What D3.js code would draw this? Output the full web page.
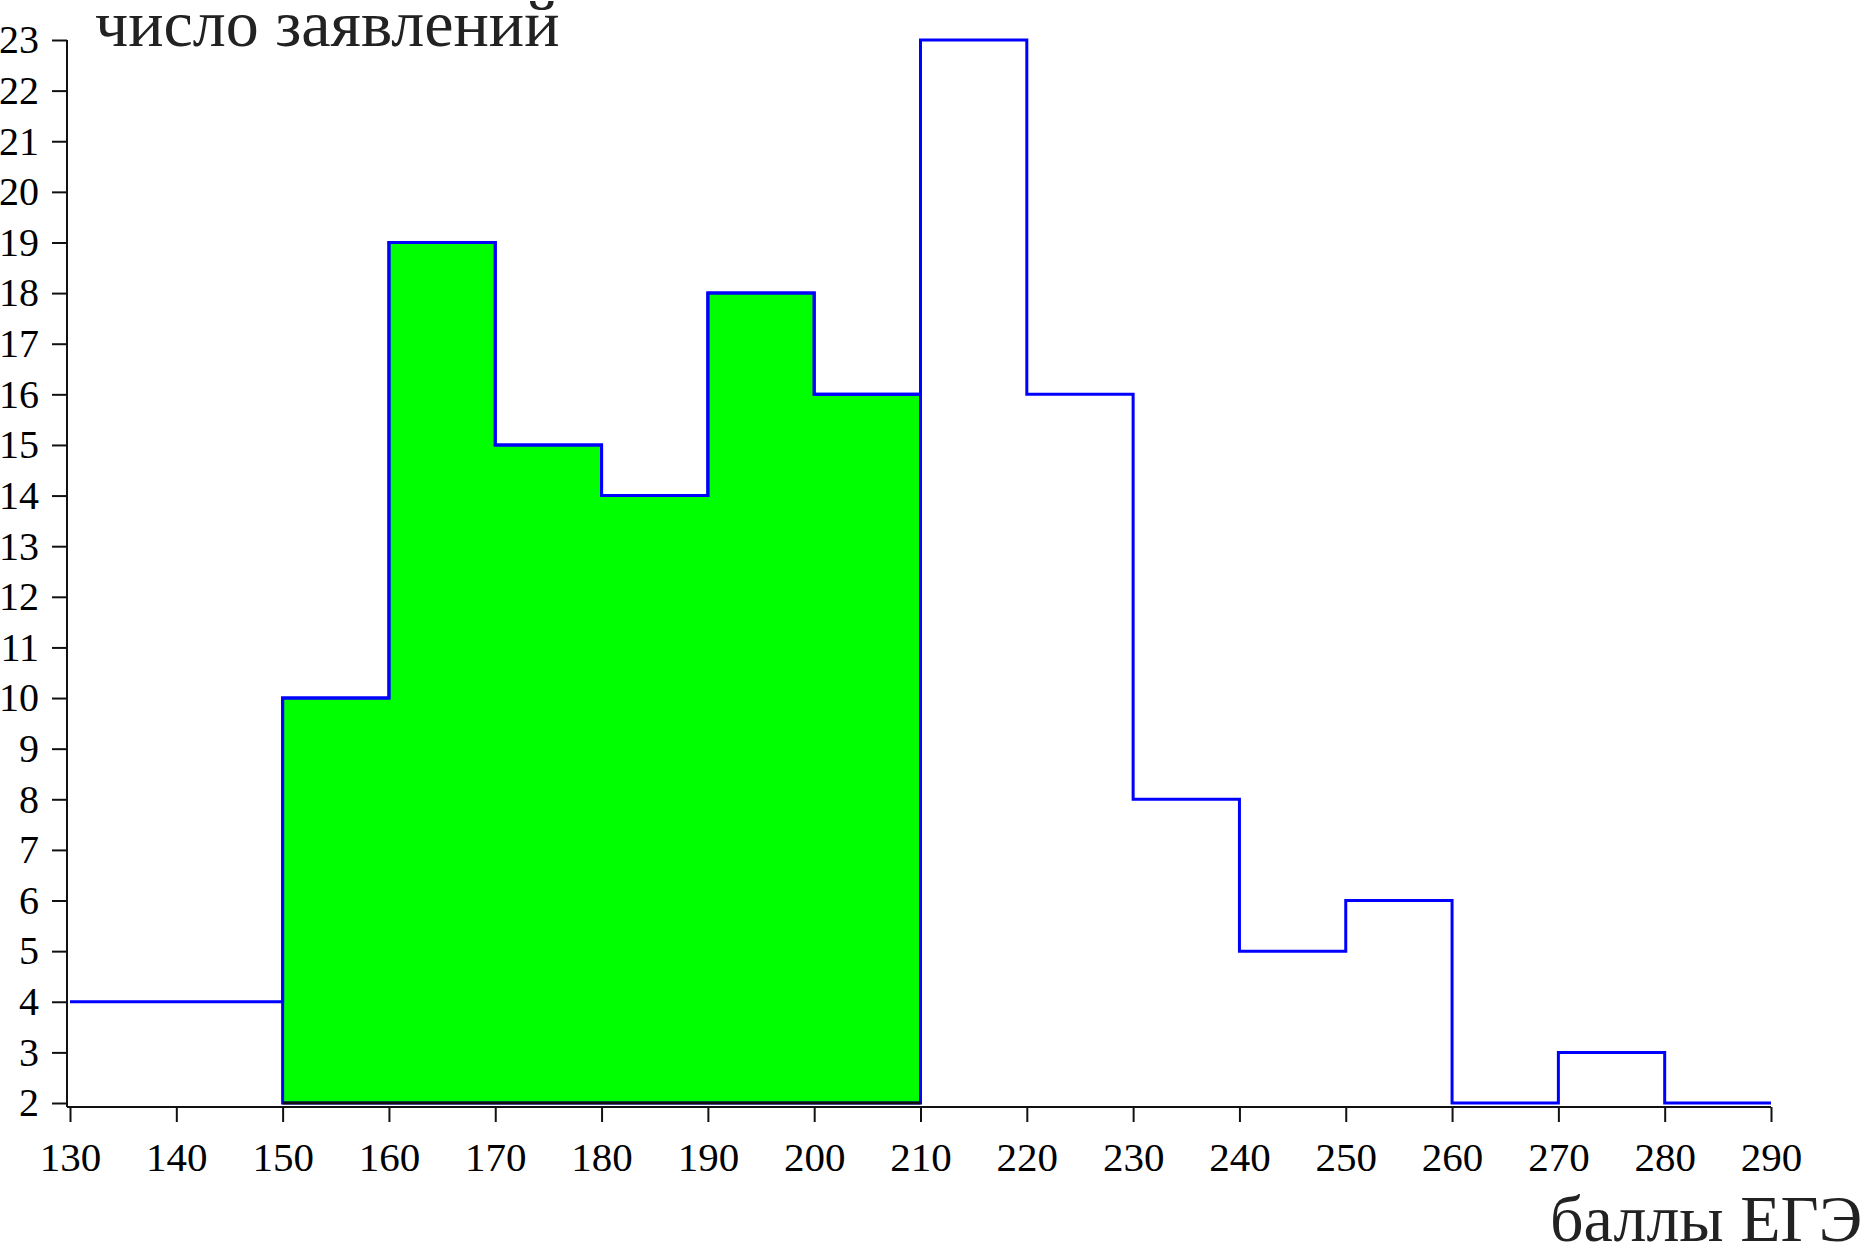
<!DOCTYPE html>
<html>
<head>
<meta charset="utf-8">
<script src="https://cdn.jsdelivr.net/npm/d3@7"></script>
<style>
  body { margin: 0; background: #fff; }
  text { font-family: "Liberation Serif", "DejaVu Serif", serif; }
</style>
</head>
<body>
<div id="chart"></div>
<script>
var svgWidth = 1862;
var svgHeight = 1244;

// bins of 10 points, from 130 to 290
var binStarts = [130, 140, 150, 160, 170, 180, 190, 200, 210, 220, 230, 240, 250, 260, 270, 280];
var counts = [4, 4, 10, 19, 15, 14, 18, 16, 23, 16, 8, 5, 6, 2, 3, 2];
var shadedFrom = 150;
var shadedTo = 210;
var xTicks = [130, 140, 150, 160, 170, 180, 190, 200, 210, 220, 230, 240, 250, 260, 270, 280, 290];
var yTicks = [2, 3, 4, 5, 6, 7, 8, 9, 10, 11, 12, 13, 14, 15, 16, 17, 18, 19, 20, 21, 22, 23];

var svg = d3.select("#chart").append("svg").attr("width", svgWidth).attr("height", svgHeight);

var xScale = d3.scaleLinear().domain([130, 290]).range([70, 1771]);
var yScale = d3.scaleLinear().domain([2, 23]).range([1103, 40]);

var axisX = 67;
var axisY = 1107;

// step points for the histogram outline
var steps = [];
binStarts.forEach(function(b, i) {
    steps.push([b, counts[i]]);
    steps.push([b + 10, counts[i]]);
});

// shaded part
var shaded = [[shadedFrom, 2]];
binStarts.forEach(function(b, i) {
    if (b >= shadedFrom && b < shadedTo) {
        shaded.push([b, counts[i]]);
        shaded.push([b + 10, counts[i]]);
    }
});
shaded.push([shadedTo, 2]);

var line = d3.line().x(d => xScale(d[0])).y(d => yScale(d[1]));

svg.append("path").attr("d", line(shaded) + "Z")
    .attr("fill", "#00ff00").attr("stroke", "#0000ff").attr("stroke-width", 3);

svg.append("line")
    .attr("x1", xScale(shadedFrom)).attr("x2", xScale(shadedTo))
    .attr("y1", yScale(2)).attr("y2", yScale(2))
    .attr("stroke", "#111").attr("stroke-width", 3);

svg.append("path").attr("d", line(steps))
    .attr("fill", "none").attr("stroke", "#0000ff").attr("stroke-width", 3);

// axes
var bottomAxis = d3.axisBottom(xScale).tickValues(xTicks).tickSize(15).tickSizeOuter(0).tickPadding(10).tickFormat(d3.format("d"));
var leftAxis = d3.axisLeft(yScale).tickValues(yTicks).tickSize(15).tickSizeOuter(0).tickPadding(13).tickFormat(d3.format("d"));

var xAxis = svg.append("g").attr("transform", `translate(0,${axisY})`).call(bottomAxis);
var yAxis = svg.append("g").attr("transform", `translate(${axisX},0)`).call(leftAxis);

xAxis.select(".domain").remove();
yAxis.select(".domain").remove();

svg.append("line").attr("x1", axisX).attr("x2", xScale(290)).attr("y1", axisY).attr("y2", axisY)
    .attr("stroke", "#111").attr("stroke-width", 2);
svg.append("line").attr("x1", axisX).attr("x2", axisX).attr("y1", yScale(23)).attr("y2", axisY)
    .attr("stroke", "#111").attr("stroke-width", 2);

[xAxis, yAxis].forEach(function(g) {
    g.selectAll(".tick line").attr("stroke", "#111").attr("stroke-width", 2);
    g.selectAll(".tick text").attr("fill", "#000").attr("font-size", "41px")
        .attr("font-family", "Liberation Serif, serif");
});
xAxis.selectAll(".tick text").attr("dy", "0.95em");
yAxis.selectAll(".tick text").attr("font-size", "40px");

// axis titles
svg.append("text").attr("x", 95).attr("y", 46).attr("font-size", "66px").attr("fill", "#222")
    .text("число заявлений");
svg.append("text").attr("x", 1550).attr("y", 1241).attr("font-size", "66px").attr("fill", "#222")
    .text("баллы ЕГЭ");
</script>
</body>
</html>
